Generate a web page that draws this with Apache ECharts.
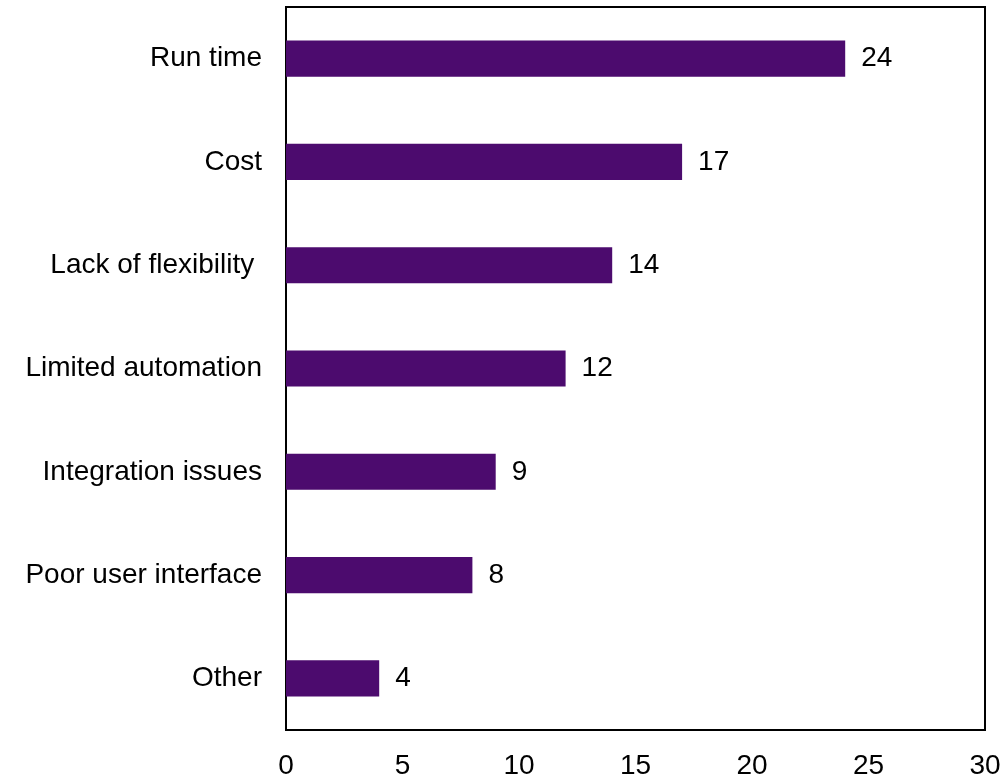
<!DOCTYPE html>
<html>
<head>
<meta charset="utf-8">
<script src="https://cdn.jsdelivr.net/npm/echarts@6/dist/echarts.min.js"></script>
<style>html,body{margin:0;padding:0;background:#fff;}#c{width:1004px;height:774px;}</style>
</head>
<body>
<div id="c"></div>
<script>
const categories = ["Run time", "Cost", "Lack of flexibility ", "Limited automation", "Integration issues", "Poor user interface", "Other"];
const values = [24, 17, 14, 12, 9, 8, 4];
const xTicks = [0, 5, 10, 15, 20, 25, 30];

const chart = echarts.init(document.getElementById('c'));
chart.setOption({
  animation: false,
  grid: { left: 286, right: 19, top: 7, bottom: 44, containLabel: false, outerBoundsMode: 'none',
    show: true, borderColor: '#000', borderWidth: 2, backgroundColor: 'transparent' },
  xAxis: {
    type: 'value', min: 0, max: 30, interval: 5,
    axisLine: { show: false }, axisTick: { show: false }, splitLine: { show: false },
    axisLabel: { color: '#000', fontFamily: 'Liberation Sans, Arial', fontSize: 28, margin: 22,
      formatter: v => xTicks.includes(v) ? String(v) : '' }
  },
  yAxis: {
    type: 'category', data: categories, inverse: true,
    axisLine: { show: false }, axisTick: { show: false }, splitLine: { show: false },
    axisLabel: { color: '#000', fontFamily: 'Liberation Sans, Arial', fontSize: 28, margin: 24 }
  },
  series: [{
    type: 'bar', data: values, barWidth: '35%',
    itemStyle: { color: '#4c0b6e' },
    label: { show: true, position: 'right', distance: 16, color: '#000', fontFamily: 'Liberation Sans, Arial', fontSize: 28 }
  }]
});
</script>
</body>
</html>
